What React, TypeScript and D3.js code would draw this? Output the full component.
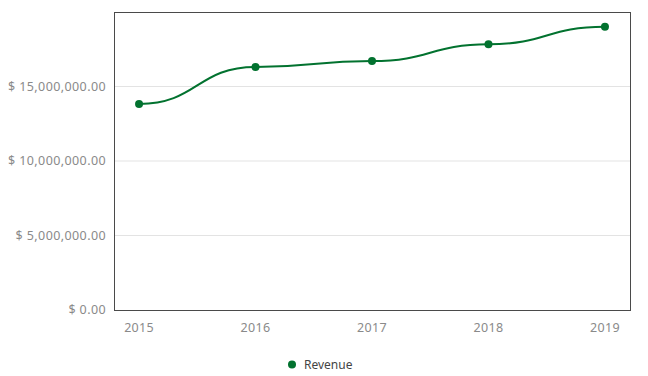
import React from "react";
import * as d3 from "d3";

const years = ["2015", "2016", "2017", "2018", "2019"];
const revenue = [13830000, 16310000, 16710000, 17830000, 19010000];
const yTicks = [0, 5000000, 10000000, 15000000];
const seriesName = "Revenue";

const W = 648, H = 376;
const M = { left: 114, top: 12, right: 630, bottom: 310 };
const green = "#02722f";

export default function App() {
  const x = d3.scalePoint<string>().domain(years).range([M.left, M.right]).padding(0.215);
  const y = d3.scaleLinear().domain([0, 20000000]).range([M.bottom, M.top]);
  const line = d3.line<number>()
    .x((_, i) => x(years[i])!)
    .y((d) => y(d))
    .curve(d3.curveBumpX);
  const fmt = (v: number) => "$ " + d3.format(",.2f")(v);
  return (
    <svg width={W} height={H} style={{ position: "absolute", left: 0, top: 0 }}>
      <rect width={W} height={H} fill="#fff" />
      {yTicks.map((t) => (
        <g key={t}>
          {t > 0 && (
            <line x1={M.left} x2={M.right} y1={y(t)} y2={y(t)} stroke="#e3e3e3" strokeWidth={1} />
          )}
          <text x={106} y={y(t)} dy="0.35em" textAnchor="end" fontSize={12.5} fill="#8a8a8a"
            letterSpacing={0.4} fontFamily="'Noto Sans', sans-serif">{fmt(t)}</text>
        </g>
      ))}
      <rect x={M.left + 0.5} y={M.top + 0.5} width={M.right - M.left} height={M.bottom - M.top}
        fill="none" stroke="#4a4a4a" strokeWidth={1} />
      {years.map((yr) => (
        <text key={yr} x={x(yr)} y={332} textAnchor="middle" fontSize={12.5} fill="#8a8a8a"
          letterSpacing={0.3} fontFamily="'Noto Sans', sans-serif">{yr}</text>
      ))}
      <path d={line(revenue) || ""} fill="none" stroke={green} strokeWidth={2} />
      {revenue.map((v, i) => (
        <circle key={i} cx={x(years[i])} cy={y(v)} r={4} fill={green} />
      ))}
      <circle cx={292} cy={364.5} r={4} fill={green} />
      <text x={304} y={364.5} dy="0.35em" fontSize={12} fill="#444"
        fontFamily="'Noto Sans', sans-serif">{seriesName}</text>
    </svg>
  );
}
